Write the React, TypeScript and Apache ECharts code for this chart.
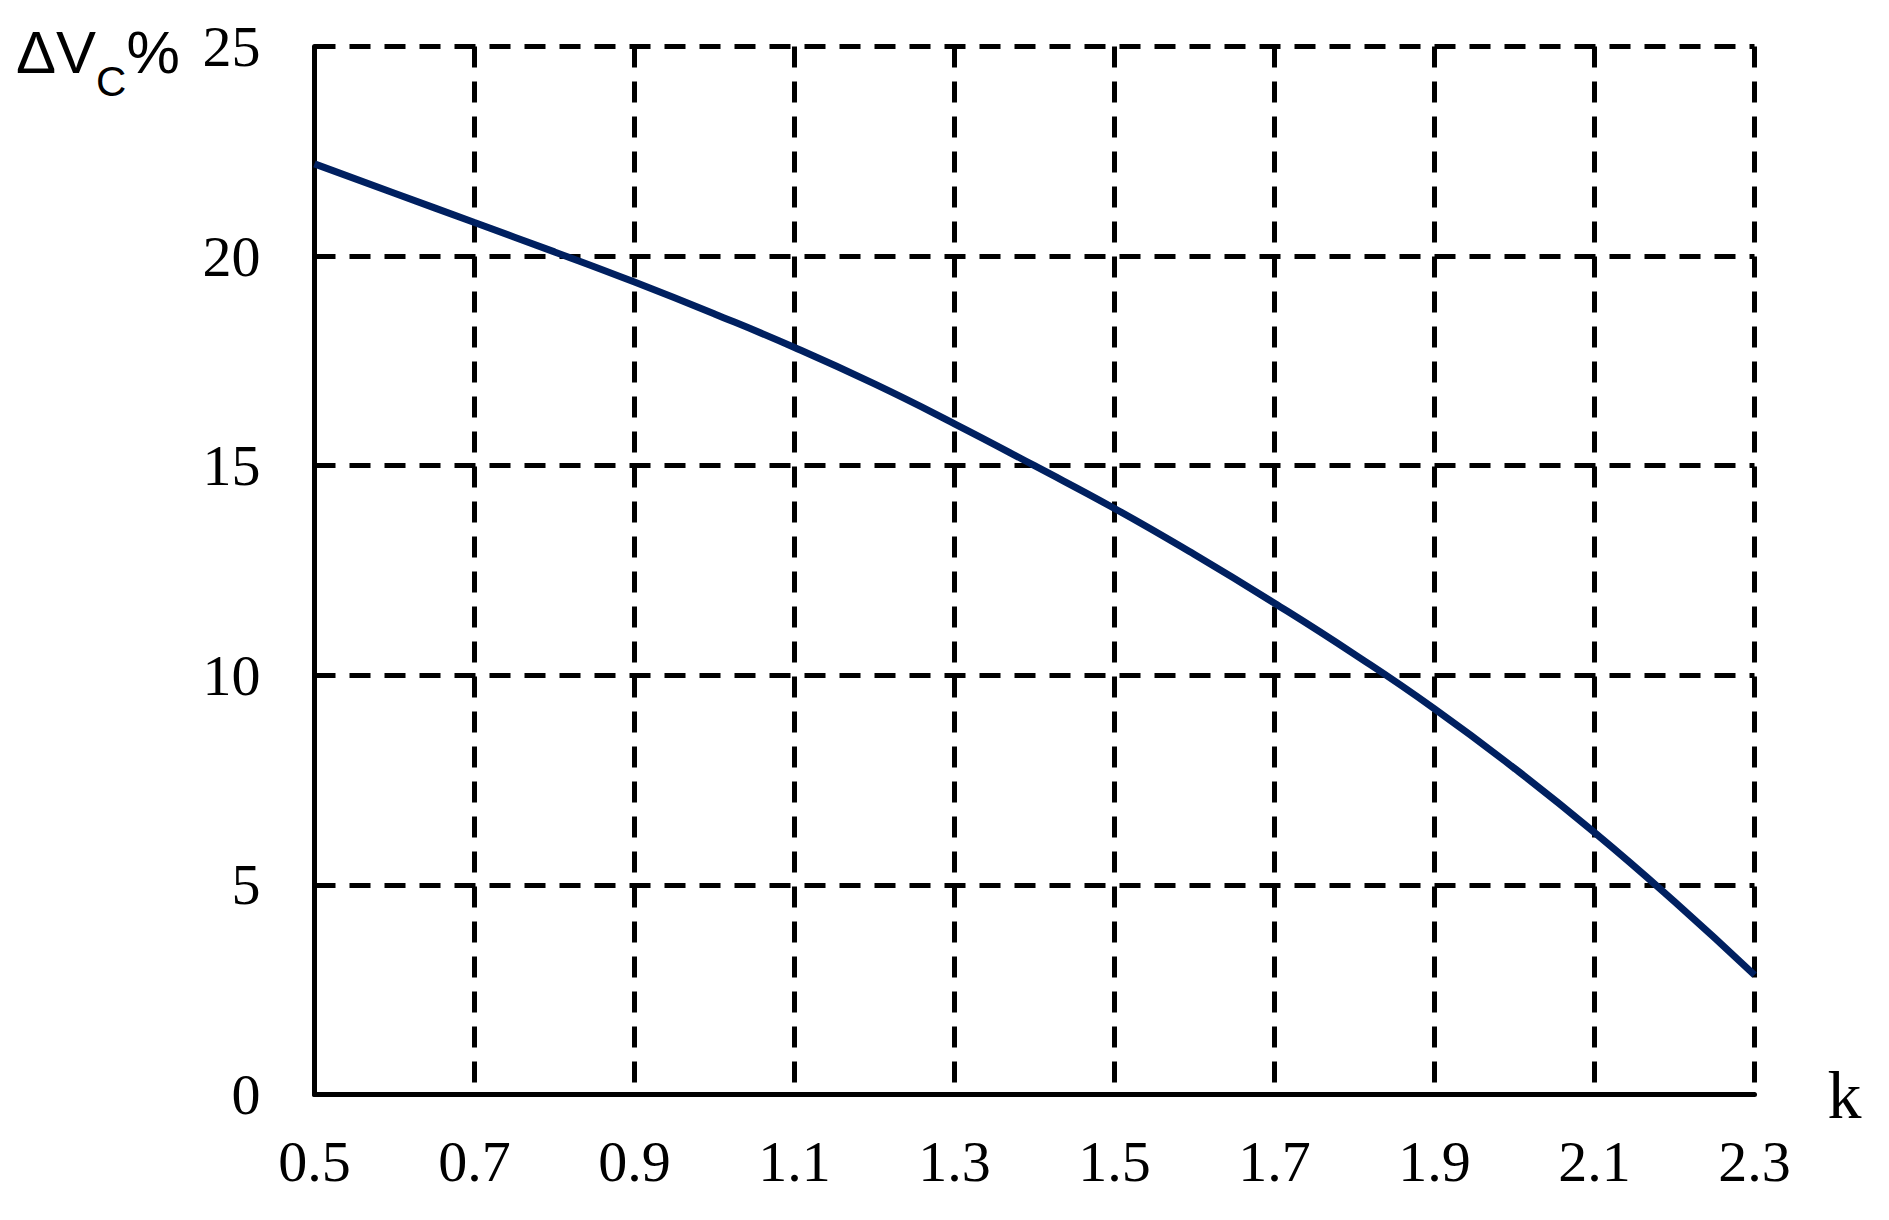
import { useEffect, useRef } from 'react';
import * as echarts from 'echarts';

// k values along the x axis (every 0.1, labels shown every 0.2)
const kValues = [
  '0.5', '0.6', '0.7', '0.8', '0.9', '1.0', '1.1', '1.2', '1.3', '1.4',
  '1.5', '1.6', '1.7', '1.8', '1.9', '2.0', '2.1', '2.2', '2.3',
];
// ΔVc %
const deltaVc = [
  22.2, 21.5, 20.8, 20.1, 19.38, 18.62, 17.82, 16.95, 16.0, 15.0,
  13.98, 12.88, 11.72, 10.5, 9.2, 7.78, 6.25, 4.6, 2.85,
];
const yMin = 0;
const yMax = 25;
const yStep = 5;

const serif = '"Liberation Serif", "Times New Roman", serif';
const sans = '"Liberation Sans", Arial, sans-serif';

const App: React.FC = () => {
  const divRef = useRef<HTMLDivElement | null>(null);

  useEffect(() => {
    if (!divRef.current) return;
    const chart = echarts.init(divRef.current, undefined, { renderer: 'svg' });

    const dashed = { color: '#000', width: 5, type: [21, 14] as number[] };

    chart.setOption({
      animation: false,
      backgroundColor: '#fff',
      grid: { left: 314.5, right: 134.5, top: 46.5, bottom: 125.5, containLabel: false },
      xAxis: {
        type: 'category',
        data: kValues,
        boundaryGap: false,
        name: 'k',
        nameLocation: 'end',
        nameGap: 73,
        nameTextStyle: { fontFamily: serif, fontSize: 68, color: '#000', verticalAlign: 'middle' },
        axisLine: { show: true, lineStyle: { color: '#000', width: 5 } },
        axisTick: { show: false },
        axisLabel: {
          interval: 1,
          margin: 38,
          fontFamily: serif,
          fontSize: 58,
          color: '#000',
        },
        splitLine: { show: true, interval: 1, lineStyle: dashed },
      },
      yAxis: {
        type: 'value',
        min: yMin,
        max: yMax,
        interval: yStep,
        axisLine: { show: true, lineStyle: { color: '#000', width: 5 } },
        axisTick: { show: false },
        axisLabel: { margin: 54, fontFamily: serif, fontSize: 58, color: '#000' },
        splitLine: { show: true, lineStyle: dashed },
      },
      graphic: [
        {
          type: 'text',
          left: 16,
          top: 22,
          style: {
            text: '{a|ΔV}{b|C}{a|%}',
            fill: '#000',
            rich: {
              a: { fontFamily: sans, fontSize: 60, lineHeight: 60, verticalAlign: 'top', fill: '#000' },
              b: { fontFamily: sans, fontSize: 42, lineHeight: 80, verticalAlign: 'bottom', fill: '#000' },
            },
          },
        },
      ],
      series: [
        {
          type: 'line',
          data: deltaVc,
          smooth: true,
          symbol: 'none',
          lineStyle: { color: '#002060', width: 7 },
          z: 5,
        },
      ],
    });

    return () => chart.dispose();
  }, []);

  return (
    <div
      ref={divRef}
      style={{ position: 'fixed', left: 0, top: 0, width: 1889, height: 1220, background: '#fff' }}
    />
  );
};

export default App;
